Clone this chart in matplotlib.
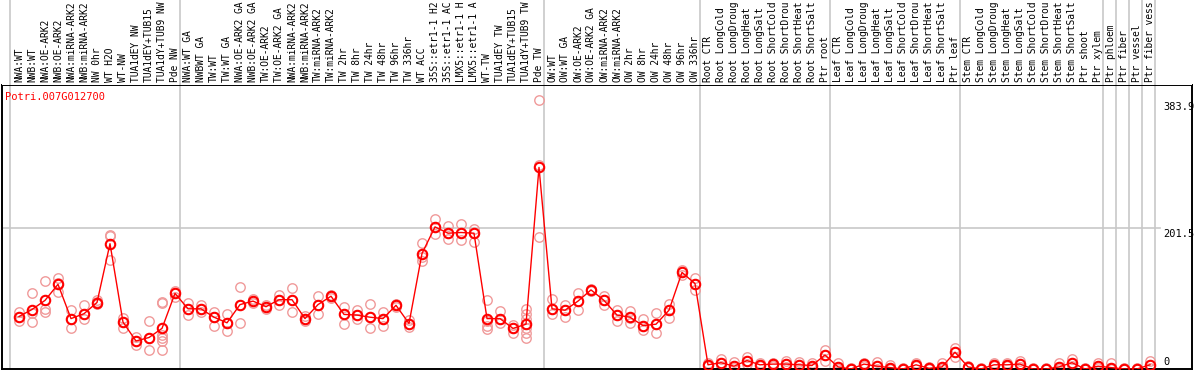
import matplotlib
matplotlib.use("Agg")
import matplotlib.pyplot as plt

title = "Potri.007G012700"

labels = [
    "NWA:WT", "NWB:WT", "NWA:OE-ARK2", "NWB:OE-ARK2", "NWA:miRNA-ARK2", "NWB:miRNA-ARK2",
    "NW 0hr", "WT H2O", "WT-NW", "TUA1dEY NW", "TUA1dEY+TUB15", "TUA1dY+TUB9 NW", "Pde NW",
    "NWA:WT GA", "NWBWT GA", "TW:WT", "TW:WT GA", "NWA:OE-ARK2 GA", "NWB:OE-ARK2 GA",
    "TW:OE-ARK2", "TW:OE-ARK2 GA", "NWA:miRNA-ARK2", "NWB:miRNA-ARK2", "TW:miRNA-ARK2",
    "TW:miRNA-ARK2", "TW 2hr", "TW 8hr", "TW 24hr", "TW 48hr", "TW 96hr", "TW 336hr",
    "WT ACC", "35S::etr1-1 H2", "35S::etr1-1 AC", "LMX5::etr1-1 H", "LMX5::etr1-1 A",
    "WT-TW", "TUA1dEY TW", "TUA1dEY+TUB15", "TUA1dY+TUB9 TW", "Pde TW",
    "OW:WT", "OW:WT GA", "OW:OE-ARK2", "OW:OE-ARK2 GA", "OW:miRNA-ARK2", "OW:miRNA-ARK2",
    "OW 2hr", "OW 8hr", "OW 24hr", "OW 48hr", "OW 96hr", "OW 336hr",
    "Root CTR", "Root LongCold", "Root LongDroug", "Root LongHeat", "Root LongSalt",
    "Root ShortCold", "Root ShortDrou", "Root ShortHeat", "Root ShortSalt", "Ptr root",
    "Leaf CTR", "Leaf LongCold", "Leaf LongDroug", "Leaf LongHeat", "Leaf LongSalt",
    "Leaf ShortCold", "Leaf ShortDrou", "Leaf ShortHeat", "Leaf ShortSalt", "Ptr leaf",
    "Stem CTR", "Stem LongCold", "Stem LongDroug", "Stem LongHeat", "Stem LongSalt",
    "Stem ShortCold", "Stem ShortDrou", "Stem ShortHeat", "Stem ShortSalt", "Ptr shoot",
    "Ptr xylem", "Ptr phloem", "Ptr fiber", "Ptr vessel", "Ptr fiber vess",
]

means = [
    75, 85, 98, 121, 72, 79, 95, 179, 67, 40, 45, 58, 108,
    86, 86, 74, 66, 92, 97, 89, 99, 99, 72, 92, 104, 78, 77, 74, 72, 91, 65,
    165, 203, 194, 195, 194, 72, 72, 58, 64, 288,
    86, 84, 97, 113, 98, 77, 74, 62, 64, 84, 138, 122,
    6, 9, 4, 12, 6, 7, 7, 6, 5, 20,
    3, 0, 7, 4, 2, 0, 6, 1, 3, 24,
    3, 0, 6, 6, 7, 0, 0, 3, 9, 0,
    4, 2, 0, 0, 6,
]

replicates = [
    [81, 75, 69], [108, 80, 67], [126, 86, 82], [130, 123, 110], [85, 72, 59],
    [92, 79, 71], [98, 96, 93], [192, 190, 156], [73, 67, 58], [46, 40, 35],
    [68, 45, 27], [96, 94, 48, 45, 40, 27], [112, 108, 103],
    [94, 86, 77], [92, 86, 82], [82, 74, 62], [79, 66, 55], [117, 92, 66],
    [100, 97, 94], [91, 89, 86], [106, 99, 91], [116, 99, 81], [76, 72, 68],
    [105, 92, 79], [106, 104, 101], [88, 78, 64], [84, 77, 72], [93, 74, 59],
    [82, 72, 62], [93, 91, 89], [70, 65, 60],
    [180, 160, 154], [214, 203, 193], [205, 194, 186], [207, 195, 184], [200, 194, 182],
    [99, 68, 61, 57], [83, 72, 66], [63, 58, 52], [86, 79, 72, 65, 58, 51, 44],
    [383.9, 291, 188],
    [100, 86, 79], [92, 84, 74], [108, 97, 85], [115, 113, 111],
    [105, 98, 91], [85, 77, 69], [83, 73, 66], [72, 62, 56], [80, 64, 51],
    [93, 84, 73], [141, 138, 135], [130, 122, 113],
    [8, 6, 4], [14, 9, 5], [10, 4, 1], [17, 12, 7], [8, 6, 4], [9, 7, 5],
    [12, 7, 3], [10, 6, 2], [8, 5, 2], [27, 20, 12],
    [8, 3, 0], [1, 0, 0], [9, 7, 5], [10, 4, 0], [6, 2, 0], [1, 0, 0],
    [8, 6, 4], [3, 1, 0], [9, 3, 0], [30, 24, 17],
    [5, 3, 2], [1, 0, 0], [8, 6, 4], [8, 6, 4], [12, 7, 3], [1, 0, 0],
    [1, 0, 0], [8, 3, 0], [14, 9, 5], [1, 0, 0],
    [8, 4, 1], [9, 2, 0], [1, 0, 0], [1, 0, 0], [12, 6, 1],
]

axis_values = [383.9, 201.5, 0]
group_ends = [-1, 12, 40, 52, 62, 72, 83, 84, 85, 86, 87]

W, H = 1194, 370
fig = plt.figure(figsize=(W / 100, H / 100), dpi=100)

x_left_px, x_right_px = 2, 1192
top_px, bottom_px = 85, 369
x0_px, step_px = 19, 13
xlim = ((x_left_px - x0_px) / step_px, (x_right_px - x0_px) / step_px)
ymax = (bottom_px - top_px) / 0.70

ax = fig.add_axes([x_left_px / W, (H - bottom_px) / H,
                   (x_right_px - x_left_px) / W, (bottom_px - top_px) / H])
ax2 = fig.add_axes([x_left_px / W, (H - top_px) / H,
                    (x_right_px - x_left_px) / W, top_px / H])

mono = "DejaVu Sans Mono"
grid_c = "#c8c8c8"

xs = list(range(len(labels)))
for a in (ax, ax2):
    a.set_xlim(*xlim)
    a.set_xticks([])
    a.set_yticks([])
    for g in group_ends:
        gx = g + 0.4 if g >= 0 else -0.7
        a.axvline(gx, color=grid_c, lw=1.2, zorder=0)

ax.set_ylim(0, ymax)
ax2.set_ylim(0, 1)
for s in ax.spines.values():
    s.set_color("black")
    s.set_linewidth(1.4)
for s in ax2.spines.values():
    s.set_visible(False)

ax.axhline(201.5, xmin=0, xmax=(86.85 - xlim[0]) / (xlim[1] - xlim[0]) + 0.01,
           color=grid_c, lw=1.2, zorder=0)

# replicates
for i, reps in enumerate(replicates):
    ax.plot([i] * len(reps), reps, linestyle="none", marker="o", ms=6.8,
            mfc="none", mec="#f09a9a", mew=1.0, zorder=2)

ax.plot(xs, means, color="red", lw=1.0, marker="o", ms=6.8, mfc="none",
        mec="red", mew=1.5, zorder=3)

ax.text(3 / (x_right_px - x_left_px), 1 - 12 / (bottom_px - top_px), title,
        transform=ax.transAxes, color="red", fontsize=7.5, family=mono,
        ha="left", va="center")

for v in axis_values:
    if v == 0:
        ax.text(88.0, 3, "0", fontsize=7.5, family=mono, ha="left", va="bottom")
    else:
        ax.text(88.0, v - 2, f"{v}", fontsize=7.5, family=mono, ha="left", va="top")

for i, lab in enumerate(labels):
    ax2.text(i, 0.03, lab, rotation=90, ha="center", va="bottom",
             fontsize=6.9, family=mono, clip_on=False)

fig.savefig("out.png", dpi=100)
